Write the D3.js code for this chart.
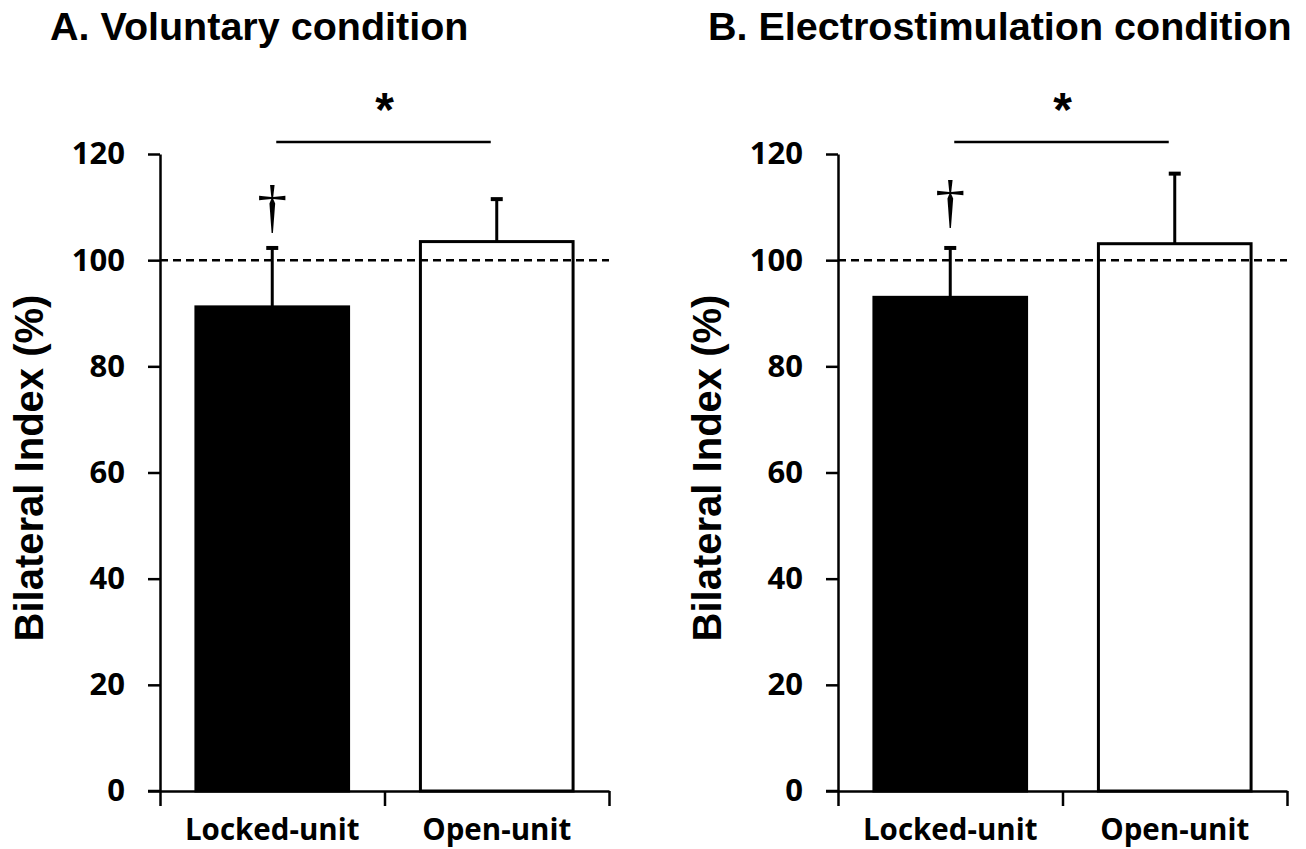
<!DOCTYPE html>
<html>
<head>
<meta charset="utf-8">
<script src="https://cdn.jsdelivr.net/npm/d3@7"></script>
<style>
  body { margin: 0; background: #fff; }
  text { fill: #000; }
</style>
</head>
<body>
<div id="chart"></div>
<script>
// Data
var categories = ["Locked-unit", "Open-unit"];
var barFills = ["#000", "#fff"];

var voluntaryMean = [91.2, 103.5];
var voluntaryErr = [11.1, 8.0];

var electroMean = [93.0, 103.1];
var electroErr = [9.3, 13.2];

var yTicks = [0, 20, 40, 60, 80, 100, 120];
var referenceLine = 100;

var panelTitles = ["A. Voluntary condition", "B. Electrostimulation condition"];
var yLabel = "Bilateral Index (%)";

var svgWidth = 1306;
var svgHeight = 849;

var svg = d3.select("#chart")
    .append("svg")
    .attr("width", svgWidth)
    .attr("height", svgHeight);

var tickFont = "'Open Sans', 'Liberation Sans', Arial, sans-serif";
var titleFont = "'Liberation Sans', Arial, sans-serif";

function drawPanel(opts) {
    var g = svg.append("g")
        .attr("transform", `translate(${opts.left}, 0)`);

    var width = 449;
    var top = 154, bottom = 791;

    var y = d3.scaleLinear().domain([0, 120]).range([bottom, top]);
    var x = d3.scaleBand().domain(categories).range([0, width]).paddingInner(0).paddingOuter(0);
    var xEdge = d3.scaleLinear().domain([0, categories.length]).range([0, width]);
    var barW = x.bandwidth() * 0.68;

    // Title
    svg.append("text")
        .attr("x", opts.titleX)
        .attr("y", 40)
        .attr("font-family", titleFont)
        .attr("font-weight", "bold")
        .attr("font-size", "39.5px")
        .text(opts.title);

    // Y axis label
    svg.append("text")
        .attr("transform", `translate(${opts.left - 117}, 468) rotate(-90)`)
        .attr("text-anchor", "middle")
        .attr("font-family", titleFont)
        .attr("font-weight", "bold")
        .attr("font-size", "40px")
        .text(yLabel);

    // Bars
    g.selectAll("rect.bar")
        .data(opts.mean)
        .enter()
        .append("rect")
        .attr("class", "bar")
        .attr("x", (d, i) => x(categories[i]) + (x.bandwidth() - barW) / 2)
        .attr("y", d => y(d))
        .attr("width", barW)
        .attr("height", d => y(0) - y(d))
        .attr("fill", (d, i) => barFills[i])
        .attr("stroke", "#000")
        .attr("stroke-width", 3);

    // Error bars (upper only)
    opts.mean.forEach(function(m, i) {
        var cx = x(categories[i]) + x.bandwidth() / 2;
        g.append("line")
            .attr("x1", cx).attr("x2", cx)
            .attr("y1", y(m)).attr("y2", y(m + opts.err[i]))
            .attr("stroke", "#000").attr("stroke-width", 3);
        g.append("line")
            .attr("x1", cx - 6).attr("x2", cx + 6)
            .attr("y1", y(m + opts.err[i])).attr("y2", y(m + opts.err[i]))
            .attr("stroke", "#000").attr("stroke-width", 4);
    });

    // Dashed reference line
    g.append("line")
        .attr("x1", 0).attr("x2", width)
        .attr("y1", y(referenceLine)).attr("y2", y(referenceLine))
        .attr("stroke", "#000")
        .attr("stroke-width", 2.5)
        .attr("stroke-dasharray", "8,5");

    // Y axis
    var yAxis = g.append("g")
        .call(d3.axisLeft(y).tickValues(yTicks).tickSize(12).tickPadding(23).tickSizeOuter(0));
    yAxis.select(".domain").attr("stroke-width", 2.5);
    yAxis.selectAll(".tick line").attr("stroke-width", 2.5);
    yAxis.selectAll(".tick text")
        .attr("font-family", tickFont)
        .attr("font-weight", "bold")
        .attr("font-size", "31px")
        .attr("fill", "#000");

    // X axis with ticks at category boundaries
    var xAxis = g.append("g")
        .attr("transform", `translate(0, ${bottom})`)
        .call(d3.axisBottom(xEdge).tickValues([0, 1, 2]).tickFormat("").tickSize(15).tickSizeOuter(0));
    xAxis.select(".domain").attr("stroke-width", 2.5);
    xAxis.selectAll(".tick line").attr("stroke-width", 2.5);
    g.append("line")
        .attr("x1", -12).attr("x2", 0)
        .attr("y1", bottom).attr("y2", bottom)
        .attr("stroke", "#000").attr("stroke-width", 2.5);

    g.selectAll("text.cat")
        .data(categories)
        .enter()
        .append("text")
        .attr("class", "cat")
        .attr("x", d => x(d) + x.bandwidth() / 2)
        .attr("y", 840)
        .attr("text-anchor", "middle")
        .attr("font-family", tickFont)
        .attr("font-weight", "bold")
        .attr("font-size", "29.5px")
        .text(d => d);

    // Significance bracket
    var c0 = x(categories[0]) + x.bandwidth() / 2;
    var c1 = x(categories[1]) + x.bandwidth() / 2;
    g.append("line")
        .attr("x1", c0 + 4).attr("x2", c1 - 6)
        .attr("y1", 142).attr("y2", 142)
        .attr("stroke", "#000").attr("stroke-width", 2.5);
    g.append("text")
        .attr("x", (c0 + c1) / 2)
        .attr("y", 126)
        .attr("text-anchor", "middle")
        .attr("font-family", titleFont)
        .attr("font-weight", "bold")
        .attr("font-size", "48px")
        .text("*");

    // Dagger over the locked-unit bar
    g.append("text")
        .attr("x", c0)
        .attr("y", opts.daggerY)
        .attr("text-anchor", "middle")
        .attr("font-family", "'Liberation Serif', 'DejaVu Serif', serif")
        .attr("font-size", "60px")
        .text("\u2020");
}

drawPanel({ left: 160, titleX: 50, title: panelTitles[0], mean: voluntaryMean, err: voluntaryErr, daggerY: 226 });
drawPanel({ left: 838, titleX: 708, title: panelTitles[1], mean: electroMean, err: electroErr, daggerY: 221 });
</script>
</body>
</html>
